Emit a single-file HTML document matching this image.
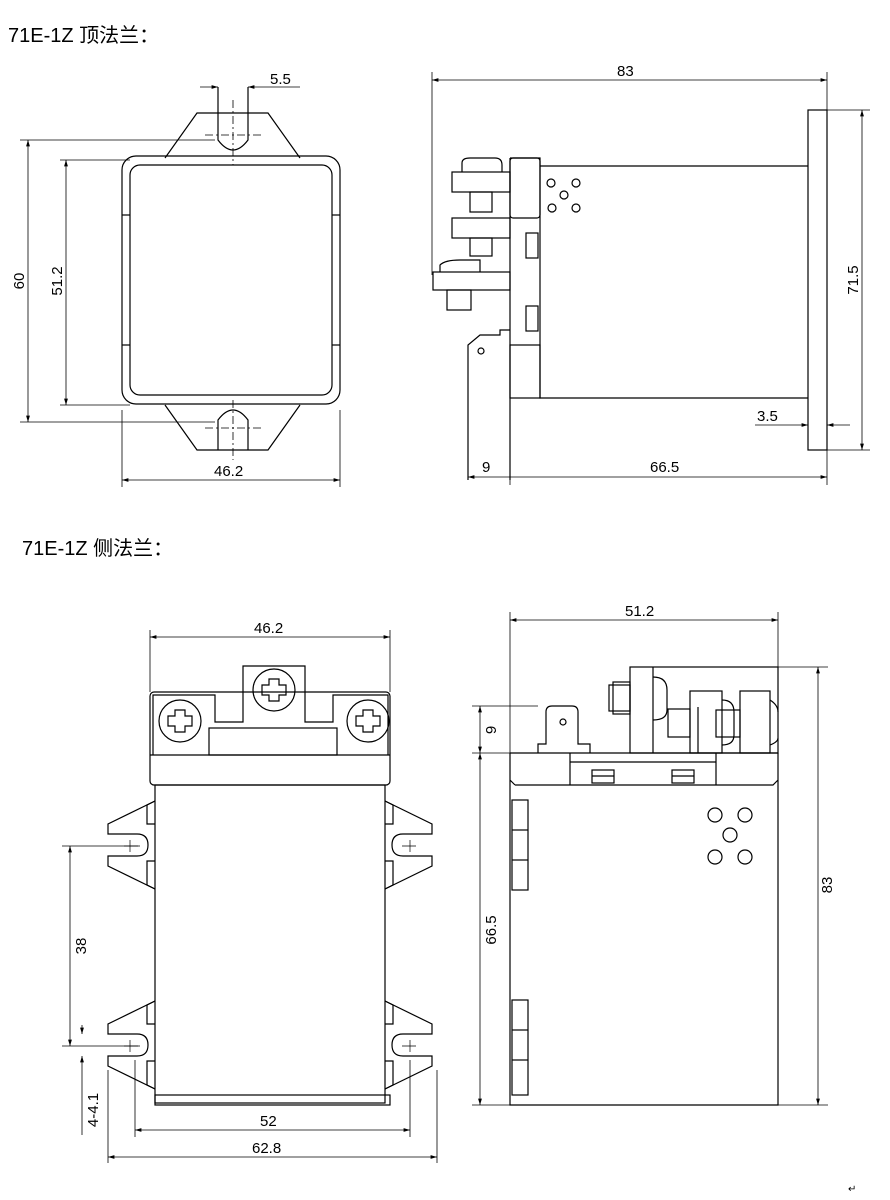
<!DOCTYPE html>
<html><head><meta charset="utf-8"><style>
html,body{margin:0;padding:0;background:#fff;}
svg{display:block}
text{font-family:"Liberation Sans","Noto Sans CJK SC",sans-serif;fill:#000}
</style></head><body>
<svg width="890" height="1200" viewBox="0 0 890 1200" xmlns="http://www.w3.org/2000/svg">
<defs>
<marker id="a" viewBox="0 0 10 10" refX="10" refY="5" markerWidth="8" markerHeight="8" orient="auto-start-reverse"><path d="M0,2 L10,5 L0,8 z" fill="#000"/></marker>
</defs>
<g stroke="#000" stroke-width="1.2" fill="none">
<!-- TOP LEFT -->
<path d="M165,158 L197,113 L268,113 L300,158"/>
<path d="M165,405 L197,450 L268,450 L300,405"/>
<path d="M218,87 L218,140 Q233,160 248,140 L248,87"/>
<path d="M218,450 L218,420 Q233,400 248,420 L248,450"/>
<rect x="122" y="156" width="218" height="248" rx="14"/>
<rect x="130" y="165" width="202" height="230" rx="10"/>
<line x1="122" y1="215" x2="130" y2="215"/><line x1="332" y1="215" x2="340" y2="215"/>
<line x1="122" y1="345" x2="130" y2="345"/><line x1="332" y1="345" x2="340" y2="345"/>
<g stroke-dasharray="8,3,2,3" stroke-width="0.8"><line x1="233" y1="100" x2="233" y2="165"/><line x1="233" y1="400" x2="233" y2="460"/><line x1="205" y1="135" x2="262" y2="135"/><line x1="205" y1="428" x2="262" y2="428"/></g>
<g stroke-width="0.8">
<line x1="20" y1="140" x2="215" y2="140"/><line x1="20" y1="422" x2="215" y2="422"/>
<line x1="28" y1="140" x2="28" y2="422" marker-start="url(#a)" marker-end="url(#a)"/>
<line x1="60" y1="160" x2="130" y2="160"/><line x1="60" y1="405" x2="130" y2="405"/>
<line x1="66" y1="160" x2="66" y2="405" marker-start="url(#a)" marker-end="url(#a)"/>
<line x1="122" y1="410" x2="122" y2="487"/><line x1="340" y1="410" x2="340" y2="487"/>
<line x1="122" y1="480" x2="340" y2="480" marker-start="url(#a)" marker-end="url(#a)"/>
<line x1="200" y1="87" x2="218" y2="87" marker-end="url(#a)"/><line x1="248" y1="87" x2="300" y2="87" marker-start="url(#a)"/>
</g>
<!-- TOP RIGHT -->
<rect x="808" y="110" width="19" height="340"/>
<path d="M510,158 L540,158 L540,166 L808,166 M540,166 L540,398 L808,398 M510,158 L510,480"/>
<rect x="510" y="158" width="30" height="60" rx="3"/>
<rect x="510" y="345" width="30" height="53"/>
<path d="M468,480 L468,345 L480,335 L500,335 L500,330 L510,330"/>
<rect x="433" y="272" width="77" height="18"/>
<rect x="452" y="172" width="58" height="20"/><rect x="452" y="218" width="58" height="20"/>
<rect x="470" y="192" width="22" height="20"/><rect x="470" y="238" width="22" height="18"/><rect x="447" y="290" width="24" height="20"/>
<path d="M462,172 L462,163 Q462,158 470,158 L495,158 Q502,158 502,165 L502,172"/>
<path d="M440,272 L440,265 Q445,260 460,260 L480,260 L480,272"/>
<rect x="526" y="233" width="12" height="25"/><rect x="526" y="306" width="12" height="25"/>
<circle cx="551" cy="183" r="4"/><circle cx="576" cy="183" r="4"/><circle cx="564" cy="195" r="4"/><circle cx="552" cy="208" r="4"/><circle cx="576" cy="208" r="4"/><circle cx="481" cy="351" r="3"/>
<g stroke-width="0.8">
<line x1="432" y1="72" x2="432" y2="275"/><line x1="827" y1="72" x2="827" y2="110"/>
<line x1="432" y1="80" x2="827" y2="80" marker-start="url(#a)" marker-end="url(#a)"/>
<line x1="827" y1="110" x2="870" y2="110"/><line x1="827" y1="450" x2="870" y2="450"/>
<line x1="862" y1="110" x2="862" y2="450" marker-start="url(#a)" marker-end="url(#a)"/>
<line x1="468" y1="477" x2="827" y2="477" marker-start="url(#a)" marker-end="url(#a)"/>
<line x1="510" y1="470" x2="510" y2="485" /><line x1="827" y1="450" x2="827" y2="485"/>
<line x1="755" y1="425" x2="808" y2="425" marker-end="url(#a)"/><line x1="827" y1="425" x2="850" y2="425" marker-start="url(#a)"/>
</g>
<!-- BOTTOM LEFT -->
<rect x="150" y="692" width="240" height="93" rx="4"/>
<line x1="150" y1="755" x2="390" y2="755"/>
<path d="M153,755 L153,695 L215,695 L215,722 L243,722 L243,666 L305,666 L305,722 L333,722 L333,695 L388,695 L388,755"/>
<rect x="209" y="728" width="128" height="27"/>
<rect x="155" y="785" width="230" height="318"/>
<rect x="155" y="1095" width="235" height="10"/>
<g>
<circle cx="180" cy="721" r="21"/><circle cx="274" cy="690" r="21"/><circle cx="368" cy="721" r="21"/>
<path d="M175,710 h10 v6 h7 v10 h-7 v6 h-10 v-6 h-7 v-10 h7 z"/>
<path d="M269,679 h10 v6 h7 v10 h-7 v6 h-10 v-6 h-7 v-10 h7 z"/>
<path d="M363,710 h10 v6 h7 v10 h-7 v6 h-10 v-6 h-7 v-10 h7 z"/>
</g>
<g id="fl">
<path d="M155,801 L108,824 L108,834 L137,834 Q148,834 148,845 Q148,856 137,856 L108,856 L108,866 L155,889"/>
<path d="M155,801 L147,805 L147,824 L155,824 M155,861 L147,861 L147,885 L155,889"/>
<path d="M130,840 L130,852 M124,846 L138,846" stroke-width="0.7"/>
</g>
<use href="#fl" transform="translate(0,200)"/>
<use href="#fl" transform="translate(540,0) scale(-1,1)"/>
<use href="#fl" transform="translate(540,200) scale(-1,1)"/>
<g stroke-width="0.8">
<line x1="150" y1="630" x2="150" y2="692"/><line x1="390" y1="630" x2="390" y2="692"/>
<line x1="150" y1="637" x2="390" y2="637" marker-start="url(#a)" marker-end="url(#a)"/>
<line x1="62" y1="846" x2="140" y2="846"/><line x1="62" y1="1046" x2="140" y2="1046"/>
<line x1="70" y1="846" x2="70" y2="1046" marker-start="url(#a)" marker-end="url(#a)"/>
<line x1="82" y1="1025" x2="82" y2="1034" marker-end="url(#a)"/><line x1="82" y1="1056" x2="82" y2="1135" marker-start="url(#a)"/>
<line x1="135" y1="1060" x2="135" y2="1137"/><line x1="410" y1="1060" x2="410" y2="1137"/>
<line x1="135" y1="1130" x2="410" y2="1130" marker-start="url(#a)" marker-end="url(#a)"/>
<line x1="108" y1="1070" x2="108" y2="1163"/><line x1="437" y1="1070" x2="437" y2="1163"/>
<line x1="108" y1="1157" x2="437" y2="1157" marker-start="url(#a)" marker-end="url(#a)"/>
</g>
<!-- BOTTOM RIGHT -->
<path d="M510,753 L510,1105 L778,1105 L778,753 M515,785 L510,780 M515,785 L773,785 L778,780"/>
<path d="M510,753 L778,753 M570,753 L570,785 M716,753 L716,785 M570,762 L716,762"/>
<path d="M510,753 M538,753 L538,744 L546,744 L546,712 Q546,706 552,706 L572,706 Q578,706 578,712 L578,744 L590,744 L590,753"/>
<rect x="630" y="667" width="148" height="86"/>
<line x1="653" y1="667" x2="653" y2="753"/>
<rect x="609" y="685" width="21" height="26"/><rect x="613" y="682" width="17" height="32"/>
<path d="M653,677 Q667,677 667,690 L667,710 Q667,720 653,720"/>
<rect x="690" y="691" width="32" height="62"/><line x1="698" y1="707" x2="698" y2="753"/>
<rect x="668" y="709" width="22" height="28"/>
<path d="M722,700 Q734,700 734,712 L734,735 Q734,745 722,745"/>
<rect x="740" y="691" width="30" height="62"/>
<rect x="716" y="710" width="24" height="27"/>
<path d="M770,700 Q778,705 778,712 M770,745 Q778,742 778,738"/>
<rect x="592" y="770" width="22" height="13"/><line x1="592" y1="776" x2="614" y2="776"/>
<rect x="672" y="770" width="22" height="13"/><line x1="672" y1="776" x2="694" y2="776"/>
<rect x="512" y="800" width="16" height="90"/><rect x="512" y="1000" width="16" height="95"/>
<line x1="512" y1="830" x2="528" y2="830"/><line x1="512" y1="860" x2="528" y2="860"/>
<line x1="512" y1="1030" x2="528" y2="1030"/><line x1="512" y1="1060" x2="528" y2="1060"/>
<circle cx="715" cy="815" r="7"/><circle cx="745" cy="815" r="7"/><circle cx="730" cy="835" r="7"/><circle cx="715" cy="857" r="7"/><circle cx="745" cy="857" r="7"/>
<circle cx="563" cy="722" r="3"/>
<g stroke-width="0.8">
<line x1="510" y1="612" x2="510" y2="753"/><line x1="778" y1="612" x2="778" y2="667"/>
<line x1="510" y1="620" x2="778" y2="620" marker-start="url(#a)" marker-end="url(#a)"/>
<line x1="778" y1="667" x2="828" y2="667"/><line x1="778" y1="1105" x2="828" y2="1105"/>
<line x1="818" y1="667" x2="818" y2="1105" marker-start="url(#a)" marker-end="url(#a)"/>
<line x1="472" y1="706" x2="538" y2="706"/><line x1="472" y1="753" x2="510" y2="753"/><line x1="472" y1="1105" x2="510" y2="1105"/>
<line x1="480" y1="706" x2="480" y2="753" marker-start="url(#a)" marker-end="url(#a)"/>
<line x1="480" y1="753" x2="480" y2="1105" marker-start="url(#a)" marker-end="url(#a)"/>
</g>
</g>
<text x="8" y="42" font-size="20">71E-1Z 顶法兰：</text>
<text x="22" y="555" font-size="20">71E-1Z 侧法兰：</text>
<g font-size="15">
<text x="270" y="84">5.5</text>
<text x="214" y="476">46.2</text>
<text x="617" y="76">83</text>
<text x="482" y="472">9</text>
<text x="650" y="472">66.5</text>
<text x="757" y="421">3.5</text>
<text x="254" y="633">46.2</text>
<text x="260" y="1126">52</text>
<text x="252" y="1153">62.8</text>
<text x="625" y="616">51.2</text>
<text transform="translate(24,281) rotate(-90)" text-anchor="middle">60</text>
<text transform="translate(62,281) rotate(-90)" text-anchor="middle">51.2</text>
<text transform="translate(858,280) rotate(-90)" text-anchor="middle">71.5</text>
<text transform="translate(86,946) rotate(-90)" text-anchor="middle">38</text>
<text transform="translate(98,1110) rotate(-90)" text-anchor="middle">4-4.1</text>
<text transform="translate(496,730) rotate(-90)" text-anchor="middle">9</text>
<text transform="translate(496,930) rotate(-90)" text-anchor="middle">66.5</text>
<text transform="translate(832,885) rotate(-90)" text-anchor="middle">83</text>
</g>
<text x="848" y="1192" font-size="10">↵</text>
</svg>
</body></html>
